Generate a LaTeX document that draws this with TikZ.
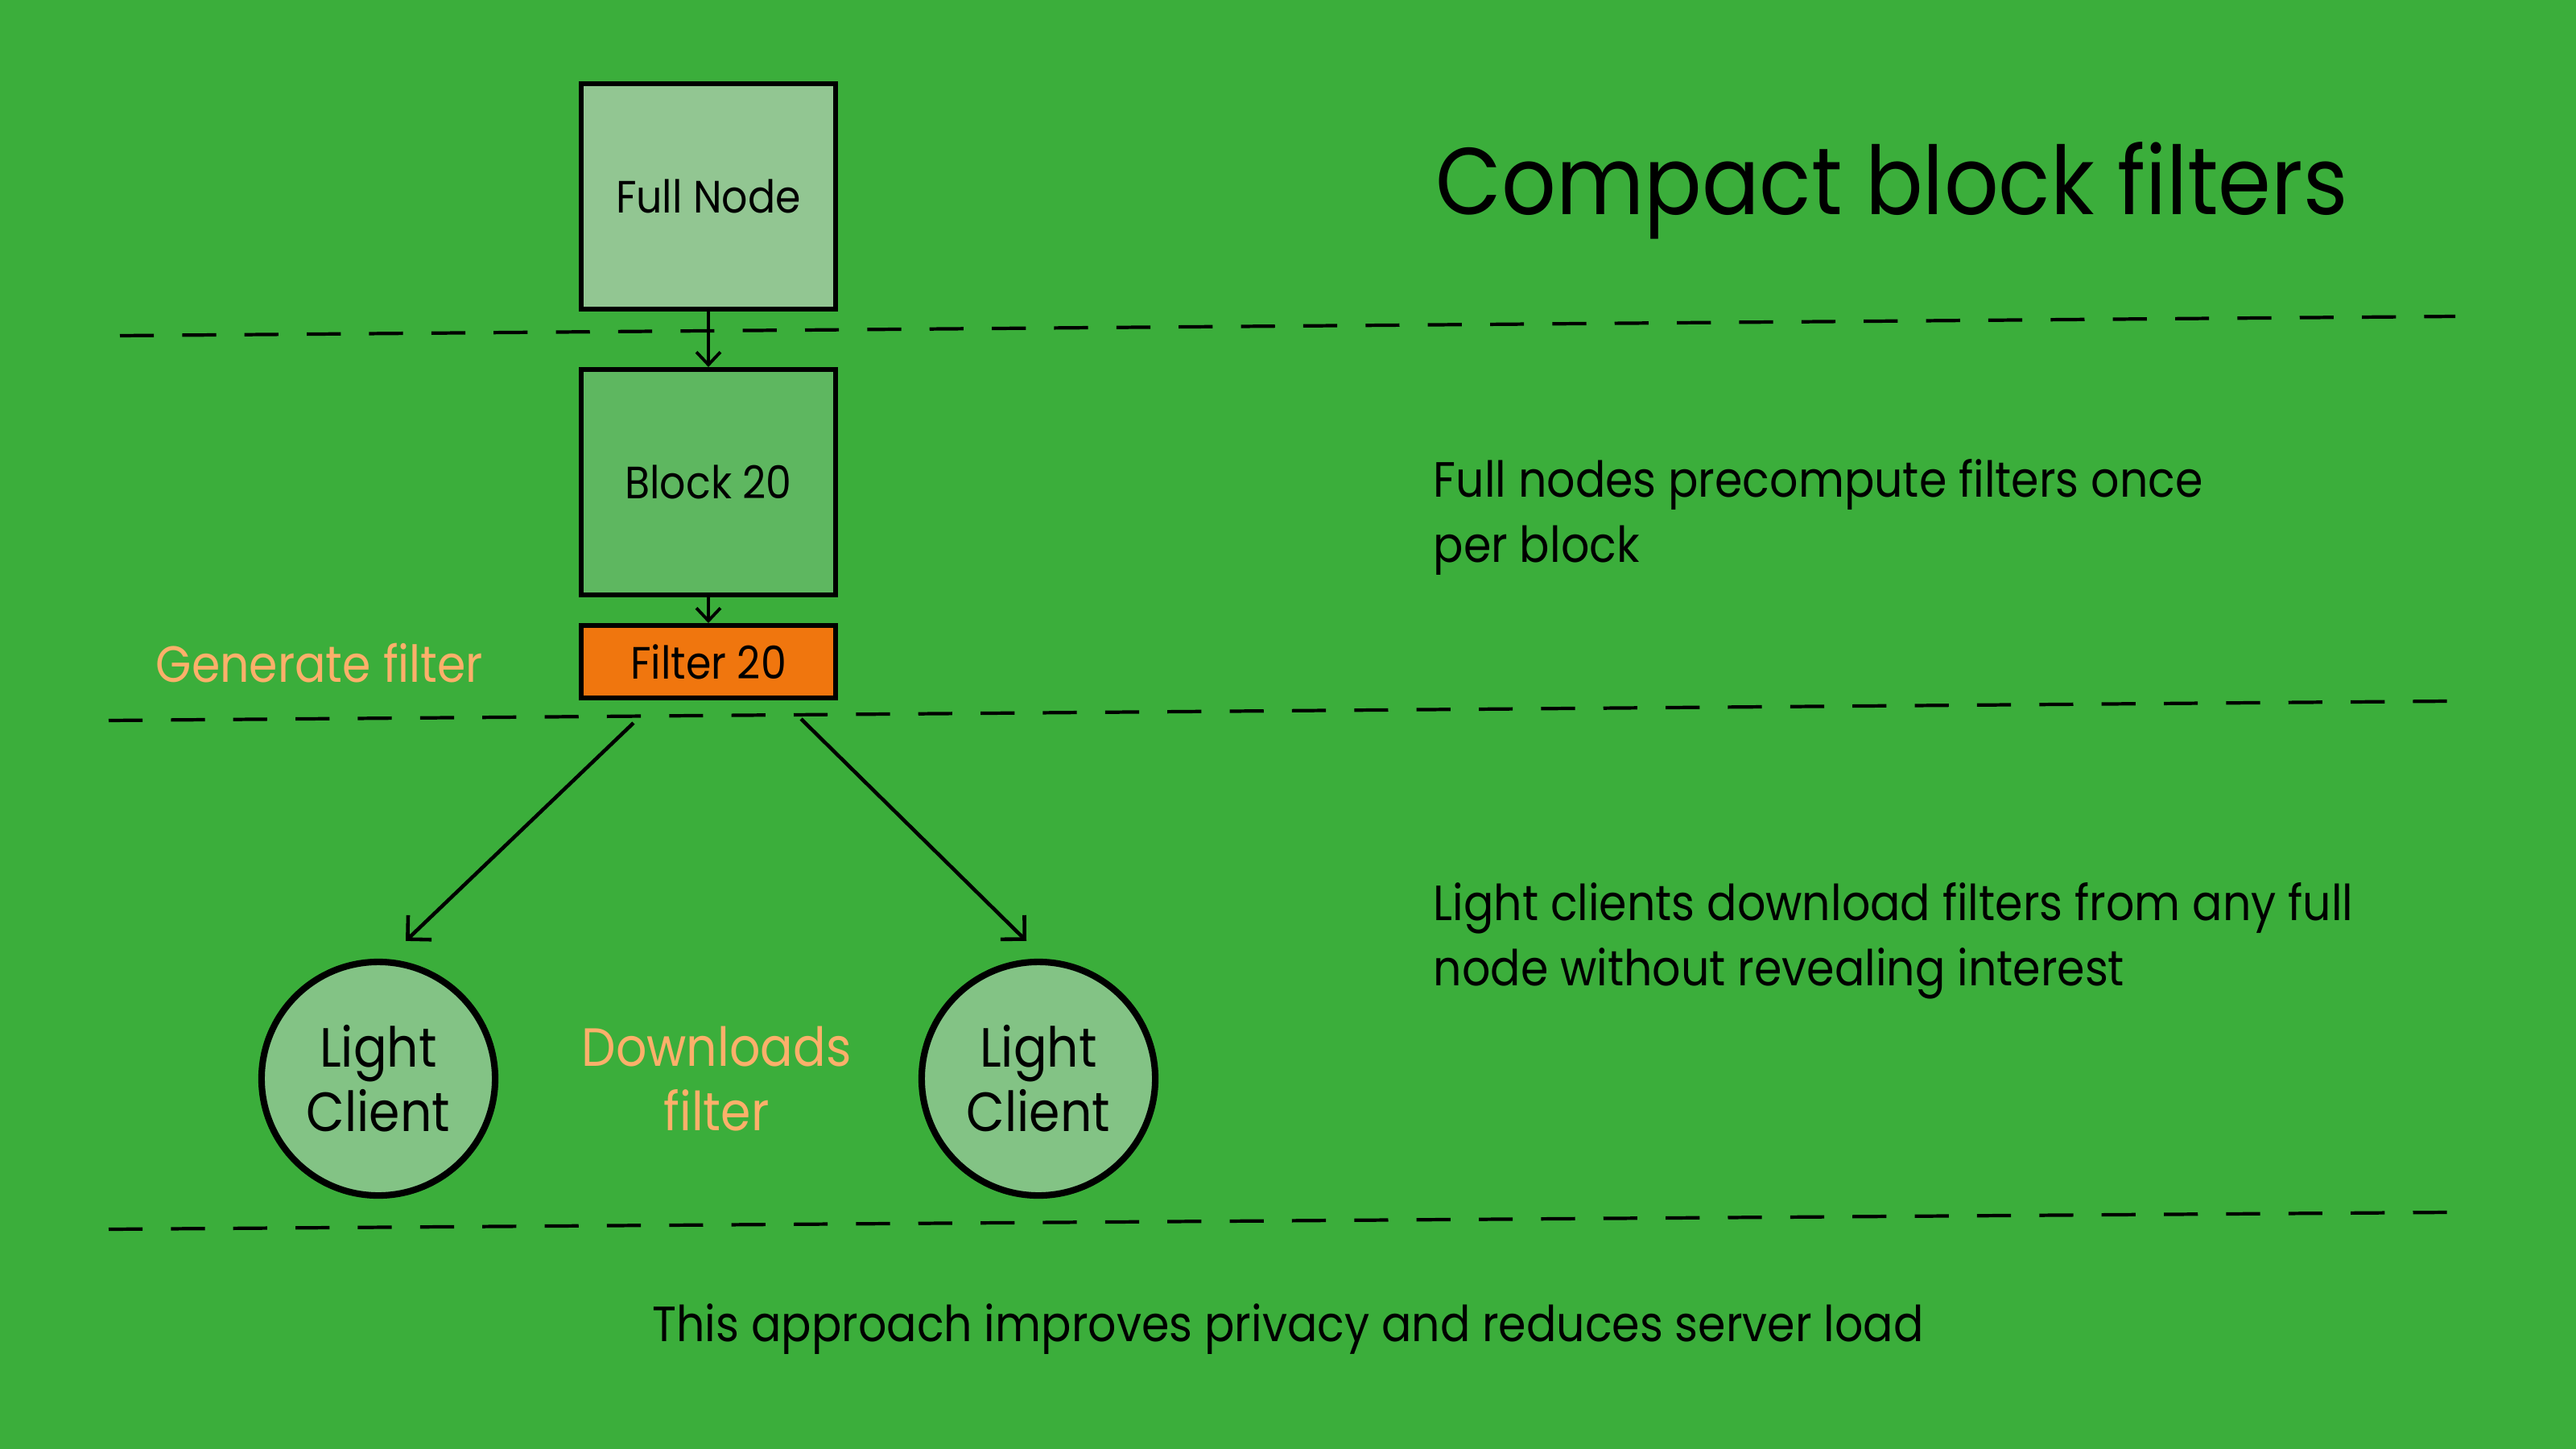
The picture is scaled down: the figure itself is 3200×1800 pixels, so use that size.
\documentclass[tikz,border=0pt]{standalone}
\usepackage{fontspec}
\setmainfont{Poppins}[FakeStretch=0.9]
\usetikzlibrary{arrows.meta, positioning, calc}
\definecolor{bggreen}{RGB}{59, 174, 59}
\definecolor{nodegreen}{RGB}{146, 198, 146}
\definecolor{blockgreen}{RGB}{94, 183, 96}
\definecolor{filterorange}{RGB}{240, 118, 14}
\definecolor{clientgreen}{RGB}{131, 195, 133}
\definecolor{labelorange}{RGB}{252, 176, 106}

\begin{document}
\begin{tikzpicture}[x=0.01cm, y=-0.01cm,
  box/.style={draw=black, line width=1.7pt, minimum width=3.15cm, inner sep=0pt, font=\fontsize{16}{19}\selectfont},
  client/.style={circle, draw=black, line width=2.3pt, fill=clientgreen, minimum size=2.9cm, inner sep=0pt, align=center, font=\fontsize{19.5}{22.8}\selectfont},
  note/.style={anchor=base west, align=left, inner sep=0pt, font=\fontsize{17.5}{22.8}\selectfont},
  layer/.style={line width=1.2pt, dash pattern=on 12pt off 10pt},
  flow/.style={-{Straight Barb[length=4.5pt, width=8.5pt]}, line width=1.1pt},
  fetch/.style={-{Straight Barb[length=6pt, width=12pt]}, line width=1.3pt}]

  % Background
  \fill[bggreen] (0,0) rectangle (3200,1800);

  % Layer separators
  \draw[layer] (149,417) -- (3050,393);
  \draw[layer] (135,895) -- (3041,871);
  \draw[layer] (135,1527) -- (3041,1506);

  % Full node, block and filter
  \node[box, fill=nodegreen, minimum height=2.8cm] (fullnode) at (880,244) {Full Node};
  \node[box, fill=blockgreen, minimum height=2.8cm] (block) at (880,599) {Block 20};
  \node[box, fill=filterorange, minimum height=0.9cm] (filter) at (880,822) {Filter 20};
  \draw[flow] (fullnode) -- (block);
  \draw[flow] (block) -- (filter);

  \node[anchor=base west, inner sep=0pt, text=labelorange, font=\fontsize{18}{21}\selectfont] (genlabel) at (193,847) {Generate filter};

  % Light clients
  \node[client] (clientL) at (470,1340) {Light\\Client};
  \node[client] (clientR) at (1290,1340) {Light\\Client};
  \draw[fetch] ([xshift=-0.93cm, yshift=-0.28cm]filter.south) -- ([xshift=0.34cm, yshift=0.22cm]clientL.north);
  \draw[fetch] ([xshift=1.15cm, yshift=-0.23cm]filter.south) -- ([xshift=-0.15cm, yshift=0.22cm]clientR.north);

  \node[align=center, inner sep=0pt, text=labelorange, font=\fontsize{19}{22.8}\selectfont] (dllabel) at (890,1340) {Downloads\\filter};

  % Title and notes
  \node[anchor=base west, inner sep=0pt, font=\fontsize{33.5}{40}\selectfont] (title) at (1783,267) {Compact block filters};
  \node[note] (precompute) at (1780,698) {Full nodes precompute filters once\\per block};
  \node[note] (lightnote) at (1780,1224) {Light clients download filters from any full\\node without revealing interest};
  \node[anchor=base, inner sep=0pt, font=\fontsize{17.5}{21}\selectfont] (summary) at (1600,1666) {This approach improves privacy and reduces server load};
\end{tikzpicture}
\end{document}
